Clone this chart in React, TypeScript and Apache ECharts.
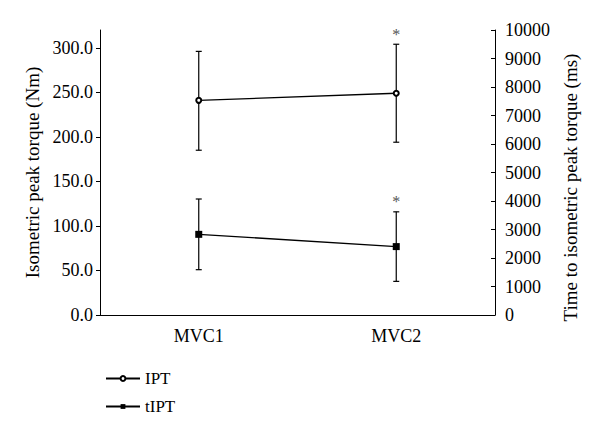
import React, { useEffect, useRef } from "react";
import * as echarts from "echarts";

const categories = ["MVC1", "MVC2"];
const iptMean = [241, 249];
const iptLow = [185, 194];
const iptHigh = [296, 304];
const iptSig = [false, true];
const tiptMean = [2830, 2400];
const tiptLow = [1590, 1180];
const tiptHigh = [4070, 3620];
const tiptSig = [false, true];
const leftTicks = [0, 50, 100, 150, 200, 250, 300];

const FONT = "'Liberation Serif', 'DejaVu Serif', serif";

function errorSeries(low: number[], high: number[], sig: boolean[], yAxisIndex: number) {
  return {
    type: "custom",
    yAxisIndex,
    z: 2,
    silent: true,
    data: categories.map((_, i) => [i, low[i], high[i], sig[i] ? 1 : 0]),
    renderItem: (params: any, api: any) => {
      const x = api.value(0);
      const top = api.coord([x, api.value(2)]);
      const bot = api.coord([x, api.value(1)]);
      const w = 3;
      const st = { stroke: "#000", lineWidth: 1.2 };
      const children: any[] = [
        { type: "line", shape: { x1: top[0], y1: top[1], x2: bot[0], y2: bot[1] }, style: st },
        { type: "line", shape: { x1: top[0] - w, y1: top[1], x2: top[0] + w, y2: top[1] }, style: st },
        { type: "line", shape: { x1: bot[0] - w, y1: bot[1], x2: bot[0] + w, y2: bot[1] }, style: st },
      ];
      if (api.value(3) === 1) {
        children.push({
          type: "text",
          x: top[0],
          y: top[1] - 2,
          style: { text: "*", fill: "#555", font: `16px ${FONT}`, align: "center", verticalAlign: "bottom" },
        });
      }
      return { type: "group", children };
    },
  };
}

export default function App() {
  const ref = useRef<HTMLDivElement>(null);
  useEffect(() => {
    if (!ref.current) return;
    const chart = echarts.init(ref.current, undefined, { renderer: "svg" });
    const axisText = { color: "#000", fontFamily: FONT, fontSize: 18 };
    chart.setOption({
      animation: false,
      backgroundColor: "#fff",
      textStyle: { fontFamily: FONT },
      grid: { left: 100, right: 105, top: 30, bottom: 121, containLabel: false },
      legend: {
        orient: "vertical",
        left: 100,
        top: 365,
        itemWidth: 34,
        itemHeight: 6,
        itemGap: 11,
        textStyle: { ...axisText, fontSize: 17 },
        data: ["IPT", "tIPT"],
      },
      xAxis: {
        type: "category",
        data: categories,
        boundaryGap: true,
        axisLine: { lineStyle: { color: "#000", width: 1 } },
        axisTick: { inside: true, length: 4, lineStyle: { color: "#000" } },
        axisLabel: { ...axisText, margin: 12 },
      },
      yAxis: [
        {
          type: "value",
          min: 0,
          max: 320,
          name: "Isometric peak torque (Nm)",
          nameLocation: "middle",
          nameGap: 58,
          nameTextStyle: { ...axisText, fontSize: 19 },
          axisLine: { show: true, lineStyle: { color: "#000", width: 1 } },
          axisTick: { show: true, length: 4, customValues: leftTicks, lineStyle: { color: "#000" } },
          axisLabel: { ...axisText, margin: 7, customValues: leftTicks, formatter: (v: number) => v.toFixed(1) },
          splitLine: { show: false },
        },
        {
          type: "value",
          min: 0,
          max: 10000,
          interval: 1000,
          position: "right",
          name: "Time to isometric peak torque (ms)",
          nameLocation: "middle",
          nameGap: 64,
          nameTextStyle: { ...axisText, fontSize: 19, padding: [0, 30, 0, 0] },
          axisLine: { show: true, lineStyle: { color: "#000", width: 1 } },
          axisTick: { show: true, inside: true, length: 4, lineStyle: { color: "#000" } },
          axisLabel: { ...axisText, margin: 10, formatter: (v: number) => String(v) },
          splitLine: { show: false },
        },
      ],
      series: [
        errorSeries(iptLow, iptHigh, iptSig, 0),
        errorSeries(tiptLow, tiptHigh, tiptSig, 1),
        {
          name: "IPT",
          type: "line",
          yAxisIndex: 0,
          z: 5,
          data: iptMean,
          symbol: "emptyCircle",
          symbolSize: 5,
          itemStyle: { color: "#000", borderColor: "#000", borderWidth: 1 },
          lineStyle: { color: "#000", width: 1.3 },
        },
        {
          name: "tIPT",
          type: "line",
          yAxisIndex: 1,
          z: 5,
          data: tiptMean,
          symbol: "rect",
          symbolSize: 7,
          itemStyle: { color: "#000" },
          lineStyle: { color: "#000", width: 1.3 },
        },
      ],
    });
    return () => chart.dispose();
  }, []);
  return <div ref={ref} style={{ width: 600, height: 436, margin: -8 }} />;
}
